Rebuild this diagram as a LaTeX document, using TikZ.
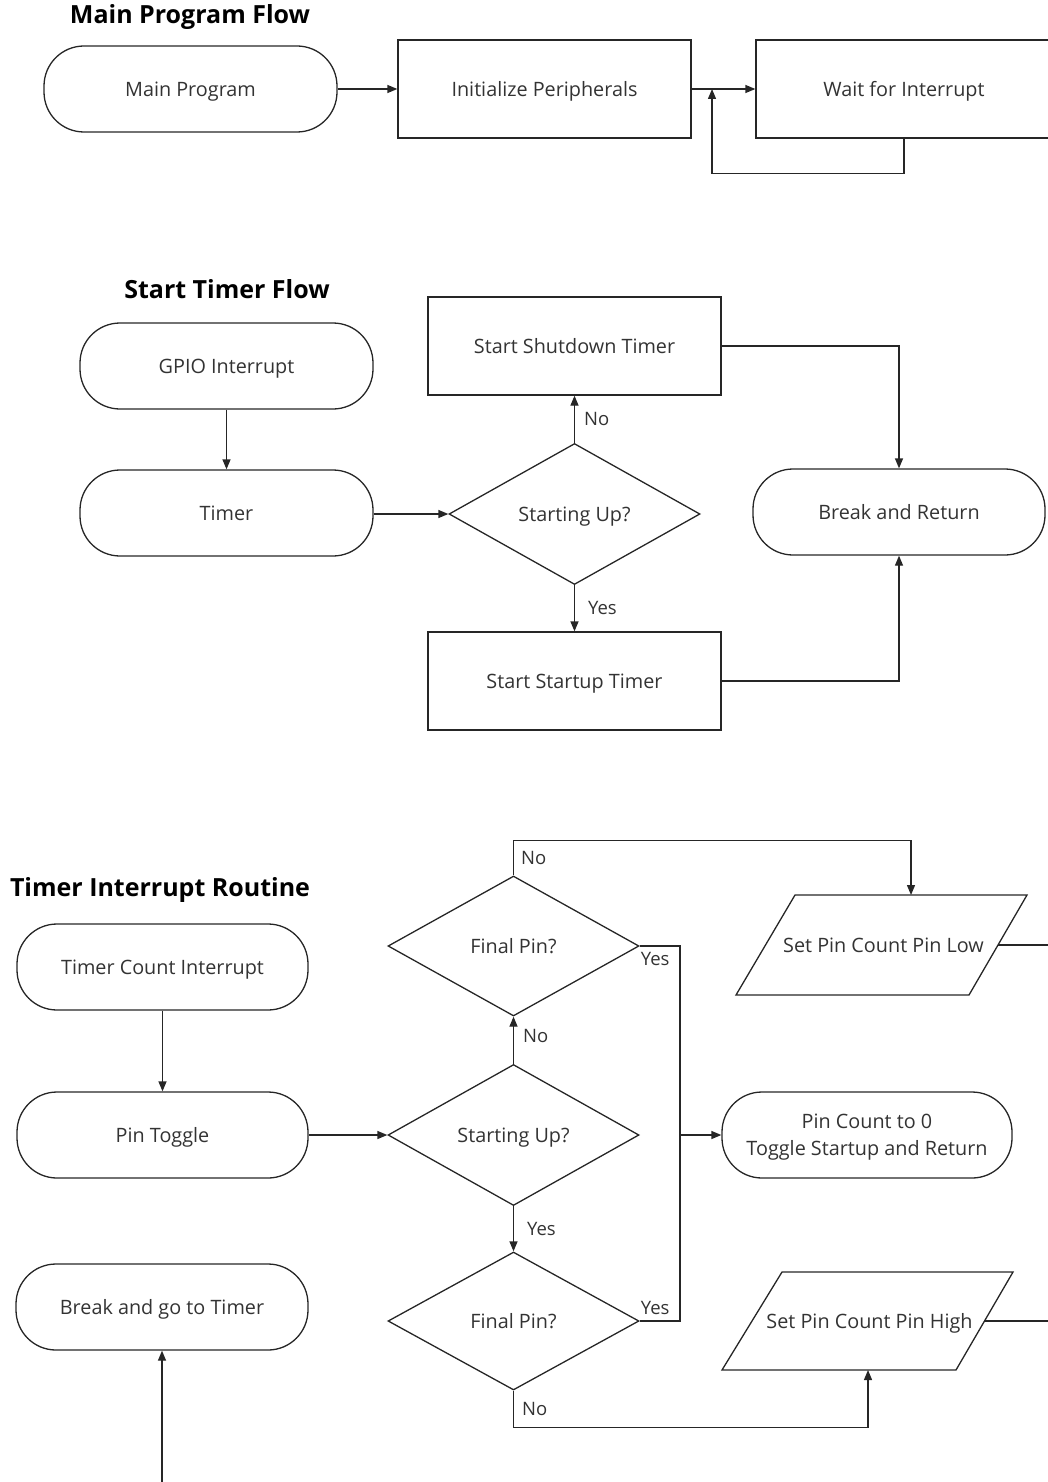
\documentclass[tikz,border=0pt]{standalone}
\usepackage{fontspec}
\setmainfont{Open Sans}
\usetikzlibrary{shapes.geometric,arrows.meta,calc}
\definecolor{linec}{HTML}{262626}
\definecolor{txtc}{HTML}{333333}
\begin{document}
\begin{tikzpicture}[x=1pt,y=-1pt,
  every node/.style={text=txtc, font=\fontsize{19.8}{27}\selectfont},
  one/.style={text height=1.45ex+7pt, text depth=0pt},
  term/.style={one, draw=linec, line width=1.3pt, rounded corners=40pt, minimum width=293pt, minimum height=86pt, inner sep=0pt},
  proc/.style={one, draw=linec, line width=1.3pt, minimum width=293pt, minimum height=98pt, inner sep=0pt},
  dec/.style={one, draw=linec, line width=1.3pt, diamond, aspect=1.78, minimum width=251pt, minimum height=141pt, inner sep=0pt},
  conn/.style={draw=linec, line width=1.3pt},
  para/.style={draw=linec, line width=1.3pt},
  arr/.style={conn, -{Triangle[length=10pt,width=8pt]}},
  lbl/.style={font=\fontsize{18.5}{22}\selectfont, inner sep=1pt},
  ttl/.style={font=\bfseries\fontsize{25}{30}\selectfont, text=black}
]
\useasboundingbox (0,0) rectangle (1047,1482);

% ---------- Main Program Flow ----------
\node[ttl] (t1) at (190,17) {Main Program Flow};
\node[term] (mp) at (190.5,89) {Main Program};
\node[proc] (init) at (544.5,89) {Initialize Peripherals};
\node[proc, minimum width=296pt] (wait) at (904,89) {Wait for Interrupt};
\coordinate (loopj) at (712,89);
\draw[arr] (mp.east) -- (init.west);
\draw[arr] (init.east) -- (wait.west);
\draw[arr] (wait.south) -- ++(0,35) -| (loopj);

% ---------- Start Timer Flow ----------
\node[ttl] (t2) at (227,289) {Start Timer Flow};
\node[term] (gpio) at (226.5,366) {GPIO Interrupt};
\node[term] (timer) at (226.5,513) {Timer};
\node[dec] (su) at (574.5,514) {Starting Up?};
\node[proc] (sd) at (574.5,346) {Start Shutdown Timer};
\node[proc] (st) at (574.5,681) {Start Startup Timer};
\node[term, minimum width=292pt] (br) at (899,512) {Break and Return};
\draw[arr] (gpio.south) -- (timer.north);
\draw[arr] (timer.east |- su.west) -- (su.west);
\draw[arr] (su.north) -- node[lbl, anchor=west, xshift=8pt] {No} (sd.south);
\draw[arr] (su.south) -- node[lbl, anchor=west, xshift=12pt] {Yes} (st.north);
\draw[arr] (sd.east) -| (br.north);
\draw[arr] (st.east) -| (br.south);

% ---------- Timer Interrupt Routine ----------
\node[ttl] (t3) at (160,890) {Timer Interrupt Routine};
\node[term, minimum width=291pt] (tci) at (162.5,967) {Timer Count Interrupt};
\node[term, minimum width=291pt] (pt) at (162.5,1135) {Pin Toggle};
\node[term, minimum width=292pt] (bgt) at (162,1307) {Break and go to Timer};
\coordinate (bgtsrc) at (162,1486);
\node[dec] (su2) at (513.5,1135) {Starting Up?};
\node[dec, minimum height=140pt] (fp1) at (513.5,946) {Final Pin?};
\node[dec, minimum height=138pt] (fp2) at (513.5,1321) {Final Pin?};
\node[draw=linec, line width=1.3pt, rounded corners=40pt, minimum width=290pt, minimum height=86pt, inner sep=0pt, align=center, text depth=-3pt] (pc0) at (867,1135) {Pin Count to 0\\Toggle Startup and Return};

% parallelogram: Set Pin Count Pin Low
\node[one] (low) at (883.5,945) {Set Pin Count Pin Low};
\draw[para] ($(low)+(-88.5,-50)$) -- ($(low)+(143.5,-50)$) -- ($(low)+(85.5,50)$) -- ($(low)+(-147.5,50)$) -- cycle;
\coordinate (lowtop) at ($(low)+(27.5,-50)$);
\coordinate (lowright) at ($(low)+(114.5,0)$);
\coordinate (lowend) at (1050,945);

% parallelogram: Set Pin Count Pin High
\node[one] (hi) at (869.5,1321) {Set Pin Count Pin High};
\draw[para] ($(hi)+(-87.5,-49)$) -- ($(hi)+(143.5,-49)$) -- ($(hi)+(86.5,49)$) -- ($(hi)+(-147.5,49)$) -- cycle;
\coordinate (hibot) at ($(hi)+(-1.5,49)$);
\coordinate (hiright) at ($(hi)+(115,0)$);
\coordinate (hiend) at (1050,1321);

\coordinate (yj1) at (680,946);
\coordinate (yj) at (680,1135);
\coordinate (yj2) at (680,1321);

\draw[arr] (tci.south) -- (pt.north);
\draw[arr] (pt.east) -- (su2.west);
\draw[arr] (bgtsrc) -- (bgt.south);
\draw[arr] (su2.north) -- node[lbl, anchor=west, xshift=8pt, yshift=4pt] {No} (fp1.south);
\draw[arr] (su2.south) -- node[lbl, anchor=west, xshift=12pt] {Yes} (fp2.north);
\draw[arr] (fp1.north) -- node[lbl, anchor=west, xshift=6pt] {No} ++(0,-35) -| (lowtop);
\draw[arr] (fp2.south) -- node[lbl, anchor=west, xshift=7pt] {No} ++(0,37) -| (hibot);
\draw[conn] (fp1.east) -- (yj1) -- (yj2) -- (fp2.east);
\draw[arr] (yj) -- (pc0.west);
\node[lbl, anchor=north west] (y1) at ($(fp1.east)+(0,5)$) {Yes};
\node[lbl, anchor=south west] (y2) at ($(fp2.east)+(0,-5)$) {Yes};
\draw[conn] (lowright) -- (lowend);
\draw[conn] (hiright) -- (hiend);
\end{tikzpicture}
\end{document}
